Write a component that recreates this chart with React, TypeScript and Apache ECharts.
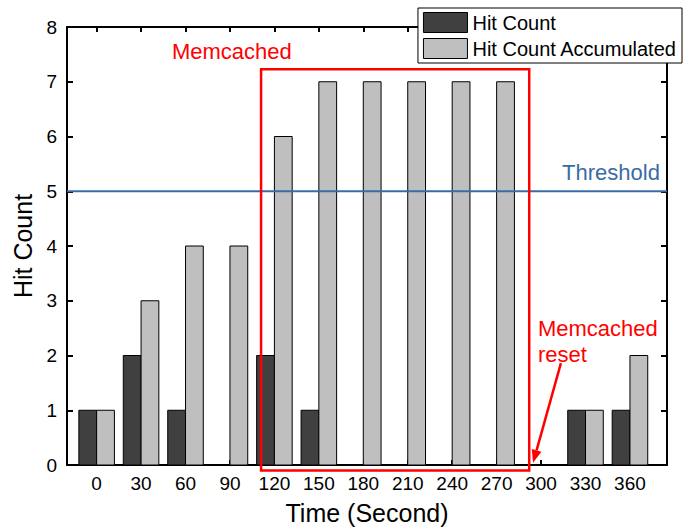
import React, { useEffect, useRef } from "react";
import * as echarts from "echarts";

// ---- data ----
const times = [0, 30, 60, 90, 120, 150, 180, 210, 240, 270, 300, 330, 360];
const hitCount = [1, 2, 1, 0, 2, 1, 0, 0, 0, 0, 0, 1, 1];
const hitCountAccumulated = [1, 3, 4, 4, 6, 7, 7, 7, 7, 7, 0, 1, 2];
const yTicks = [0, 1, 2, 3, 4, 5, 6, 7, 8];
const thresholdValue = 5;
const seriesNames = ["Hit Count", "Hit Count Accumulated"];

// ---- styling / annotation constants ----
const FONT = "'Liberation Sans', Arial, Helvetica, sans-serif";
const DARK = "#404040";
const LIGHT = "#bfbfbf";
const BLUE = "#3a6ba6";
const RED = "#ff0000";
const HALF_BAR = 12; // seconds
const X_MIN = -20;
const X_MAX = 385;

export default function App() {
  const ref = useRef<HTMLDivElement>(null);

  useEffect(() => {
    if (!ref.current) return;
    const chart = echarts.init(ref.current, null, { renderer: "svg" });

    const makeBar = (name: string, values: number[], lo: number, hi: number, color: string) => ({
      type: "custom",
      name,
      xAxisIndex: 0,
      yAxisIndex: 0,
      data: times.map((t, i) => [t, values[i]]),
      encode: { x: 0, y: 1 },
      itemStyle: { color, borderColor: "#000", borderWidth: 1 },
      renderItem: (_params: any, api: any) => {
        const x = api.value(0);
        const y = api.value(1);
        if (!y) return null;
        const a = api.coord([x + lo, y]);
        const b = api.coord([x + hi, 0]);
        return {
          type: "rect",
          shape: { x: a[0], y: a[1], width: b[0] - a[0], height: b[1] - a[1] },
          style: { fill: color, stroke: "#000", lineWidth: 1 },
        };
      },
    });

    const axisLine = { show: true, onZero: false, lineStyle: { color: "#000", width: 2 } };
    const tickStyle = { color: "#000", width: 2 };

    chart.setOption({
      animation: false,
      textStyle: { fontFamily: FONT },
      grid: {
        left: 67,
        right: 16,
        top: 27,
        bottom: 62,
        containLabel: false,
        outerBoundsMode: "none",
      },
      legend: {
        orient: "vertical",
        right: 1,
        top: 8,
        padding: [4, 5, 4, 5],
        itemGap: 5,
        itemWidth: 44,
        itemHeight: 20,
        borderColor: "#000",
        borderWidth: 1,
        borderRadius: 0,
        backgroundColor: "#fff",
        icon: "rect",
        textStyle: { fontSize: 20, color: "#000", fontFamily: FONT, padding: [0, 0, 0, 0] },
        data: [
          { name: seriesNames[0], itemStyle: { color: DARK, borderColor: "#000", borderWidth: 1 } },
          { name: seriesNames[1], itemStyle: { color: LIGHT, borderColor: "#000", borderWidth: 1 } },
        ],
      },
      xAxis: [
        {
          type: "value",
          position: "bottom",
          min: X_MIN,
          max: X_MAX,
          axisLine,
          axisTick: { show: true, inside: true, length: 5, customValues: times, lineStyle: tickStyle },
          axisLabel: { customValues: times, fontSize: 19, color: "#000", margin: 9, fontFamily: FONT },
          splitLine: { show: false },
          name: "Time (Second)",
          nameLocation: "middle",
          nameGap: 35,
          nameTextStyle: { fontSize: 25, color: "#000", fontFamily: FONT, verticalAlign: "top" },
        },
        {
          type: "value",
          position: "top",
          min: X_MIN,
          max: X_MAX,
          axisLine,
          axisTick: { show: true, inside: true, length: 5, customValues: times, lineStyle: tickStyle },
          axisLabel: { show: false },
          splitLine: { show: false },
        },
      ],
      yAxis: [
        {
          type: "value",
          position: "left",
          min: yTicks[0],
          max: yTicks[yTicks.length - 1],
          interval: 1,
          axisLine,
          axisTick: { show: true, inside: true, length: 6, lineStyle: tickStyle },
          axisLabel: { fontSize: 19, color: "#000", margin: 10, fontFamily: FONT },
          splitLine: { show: false },
          name: "Hit Count",
          nameLocation: "middle",
          nameGap: 31,
          nameTextStyle: { fontSize: 25, color: "#000", fontFamily: FONT },
        },
        {
          type: "value",
          position: "right",
          min: yTicks[0],
          max: yTicks[yTicks.length - 1],
          interval: 1,
          axisLine,
          axisTick: { show: true, inside: true, length: 6, lineStyle: tickStyle },
          axisLabel: { show: false },
          splitLine: { show: false },
        },
      ],
      series: [
        makeBar(seriesNames[0], hitCount, -HALF_BAR, 0, DARK),
        makeBar(seriesNames[1], hitCountAccumulated, 0, HALF_BAR, LIGHT),
        {
          type: "line",
          name: "Threshold",
          xAxisIndex: 0,
          yAxisIndex: 0,
          data: [
            [X_MIN, thresholdValue],
            [X_MAX, thresholdValue],
          ],
          symbol: "none",
          lineStyle: { color: BLUE, width: 2 },
          silent: true,
          z: 3,
        },
      ],
    });

    const px = (x: number, y: number) => chart.convertToPixel({ gridIndex: 0 }, [x, y]) as number[];

    const boxA = px(111, 7.23);
    const boxB = px(292, -0.1);
    const memText = px(91.3, 7.56);
    const thrText = px(380.2, 5.35);
    const resetText = px(297.9, 2.26);
    const arrowFrom = px(313.4, 1.86);
    const arrowTo = px(294.6, 0.04);
    const dx = arrowTo[0] - arrowFrom[0];
    const dy = arrowTo[1] - arrowFrom[1];
    const len = Math.sqrt(dx * dx + dy * dy);
    const ux = dx / len;
    const uy = dy / len;
    const headL = 13;
    const headW = 5;
    const base = [arrowTo[0] - ux * headL, arrowTo[1] - uy * headL];

    chart.setOption({
      graphic: [
        {
          type: "rect",
          shape: { x: boxA[0], y: boxA[1], width: boxB[0] - boxA[0], height: boxB[1] - boxA[1] },
          style: { fill: "none", stroke: RED, lineWidth: 2.5 },
          z: 10,
        },
        {
          type: "text",
          x: memText[0],
          y: memText[1],
          style: { text: "Memcached", fill: RED, font: `22px ${FONT}`, align: "center", verticalAlign: "middle" },
          z: 10,
        },
        {
          type: "text",
          x: thrText[0],
          y: thrText[1],
          style: { text: "Threshold", fill: BLUE, font: `22px ${FONT}`, align: "right", verticalAlign: "middle" },
          z: 10,
        },
        {
          type: "text",
          x: resetText[0],
          y: resetText[1],
          style: {
            text: "Memcached\nreset",
            fill: RED,
            font: `22px ${FONT}`,
            lineHeight: 26,
            align: "left",
            verticalAlign: "middle",
          },
          z: 10,
        },
        {
          type: "line",
          shape: { x1: arrowFrom[0], y1: arrowFrom[1], x2: base[0], y2: base[1] },
          style: { stroke: RED, lineWidth: 2.5 },
          z: 10,
        },
        {
          type: "polygon",
          shape: {
            points: [
              [arrowTo[0], arrowTo[1]],
              [base[0] - uy * headW, base[1] + ux * headW],
              [base[0] + uy * headW, base[1] - ux * headW],
            ],
          },
          style: { fill: RED },
          z: 10,
        },
      ],
    });

    return () => chart.dispose();
  }, []);

  return (
    <div
      ref={ref}
      style={{ position: "absolute", left: 0, top: 0, width: 683, height: 527, background: "#fff" }}
    />
  );
}
